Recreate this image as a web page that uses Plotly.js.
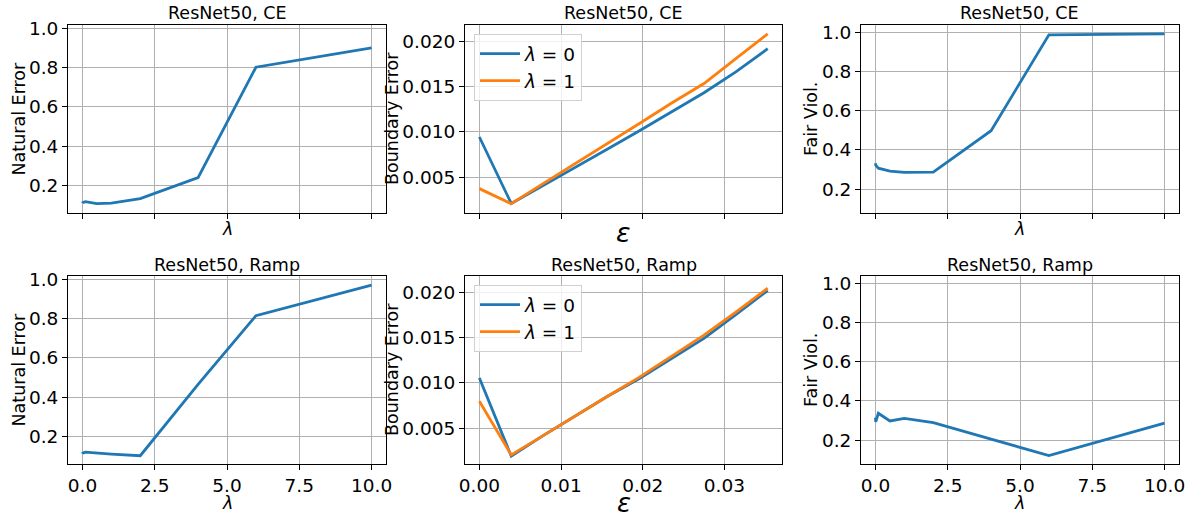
<!DOCTYPE html>
<html>
<head>
<meta charset="utf-8">
<script src="https://cdn.plot.ly/plotly-3.0.1.min.js"></script>
<style>html,body{margin:0;padding:0;background:#fff;}#chart{width:1191px;height:517px;}</style>
</head>
<body>
<div id="chart"></div>
<script>
// ---- data ----
const lambdas = [0, 0.01, 0.1, 0.5, 1, 2, 4, 6, 10];
const natErrCE   = [0.110, 0.113, 0.118, 0.108, 0.110, 0.133, 0.240, 0.802, 0.900];
const fairCE     = [0.332, 0.322, 0.307, 0.292, 0.285, 0.287, 0.498, 0.988, 0.993];
const natErrRamp = [0.112, 0.115, 0.120, 0.115, 0.110, 0.102, 0.465, 0.815, 0.971];
const fairRamp   = [0.315, 0.293, 0.337, 0.298, 0.311, 0.289, 0.205, 0.121, 0.287];

const eps = [0, 0.0039, 0.0078, 0.0118, 0.0157, 0.0196, 0.0235, 0.0275, 0.0314, 0.0353];
const bndCE_l0   = [0.00944, 0.00208, 0.00405, 0.00607, 0.00812, 0.01013, 0.01219, 0.01435, 0.01665, 0.01922];
const bndCE_l1   = [0.00372, 0.00205, 0.00427, 0.00651, 0.00874, 0.01094, 0.01318, 0.01537, 0.01812, 0.02087];
const bndRamp_l0 = [0.01054, 0.00190, 0.00416, 0.00632, 0.00852, 0.01050, 0.01266, 0.01493, 0.01757, 0.02024];
const bndRamp_l1 = [0.00797, 0.00203, 0.00416, 0.00632, 0.00852, 0.01065, 0.01291, 0.01530, 0.01786, 0.02050];

const panelTitles = ["ResNet50, CE", "ResNet50, Ramp"];
const legendNames = ["<i>λ</i> = 0", "<i>λ</i> = 1"];
const yLabels = ["Natural Error", "Boundary Error", "Fair Viol."];

// ---- styling ----
const BLUE = "#1f77b4", ORANGE = "#ff7f0e";
const FONT = "DejaVu Sans, Liberation Sans, sans-serif";
const LW = 2.8;
const TICK = 18.5, TITLE = 17.5, LABEL = 17.5;

function line(x, y, color, xa, ya, name, legend, show) {
  return {x: x, y: y, type: "scatter", mode: "lines", xaxis: xa, yaxis: ya,
          line: {color: color, width: LW}, name: name || "", showlegend: !!show,
          legend: legend || "legend", hoverinfo: "skip"};
}

const traces = [
  line(lambdas, natErrCE, BLUE, "x", "y"),
  line(eps, bndCE_l0, BLUE, "x2", "y2", legendNames[0], "legend", true),
  line(eps, bndCE_l1, ORANGE, "x2", "y2", legendNames[1], "legend", true),
  line(lambdas, fairCE, BLUE, "x3", "y3"),
  line(lambdas, natErrRamp, BLUE, "x4", "y4"),
  line(eps, bndRamp_l0, BLUE, "x5", "y5", legendNames[0], "legend2", true),
  line(eps, bndRamp_l1, ORANGE, "x5", "y5", legendNames[1], "legend2", true),
  line(lambdas, fairRamp, BLUE, "x6", "y6")
];

const W = 1191, H = 517;
const colPx = [[68, 386], [465, 782], [861, 1179]];
const rowPx = [[25, 213], [276, 464]];
const xd = c => [colPx[c][0] / W, colPx[c][1] / W];
const yd = r => [1 - rowPx[r][1] / H, 1 - rowPx[r][0] / H];

function axis(extra) {
  return Object.assign({
    showline: true, mirror: true, linecolor: "#000", linewidth: 1,
    ticks: "outside", ticklen: 5, tickwidth: 1, tickcolor: "#000",
    showgrid: true, gridcolor: "#b0b0b0", gridwidth: 1, zeroline: false,
    tickfont: {family: FONT, size: TICK, color: "#000"}, automargin: false,
    fixedrange: true
  }, extra);
}

const lamX = {range: [-0.5, 10.5], tick0: 0, dtick: 2.5, tickformat: ".1f"};
const epsX = {range: [-0.00176, 0.03705], tick0: 0, dtick: 0.01, tickformat: ".2f"};
const natY = {range: [0.06, 1.017], tick0: 0, dtick: 0.2, tickformat: ".1f"};
const bndY = {range: [0.00102, 0.02185], tick0: 0, dtick: 0.005, tickformat: ".3f"};
const fairY = {range: [0.078, 1.038], tick0: 0, dtick: 0.2, tickformat: ".1f"};

const legendStyle = {xanchor: "left", yanchor: "top",
  bgcolor: "rgba(255,255,255,0.8)", bordercolor: "#d0d0d0", borderwidth: 1,
  font: {family: FONT, size: 18.5, color: "#000"}, itemwidth: 40, tracegroupgap: 0};

const layout = {
  width: W, height: H,
  margin: {l: 0, r: 0, t: 0, b: 0},
  paper_bgcolor: "#fff", plot_bgcolor: "#fff",
  font: {family: FONT, size: 17, color: "#000"},
  xaxis:  axis(Object.assign({domain: xd(0), anchor: "y",  showticklabels: false}, lamX)),
  yaxis:  axis(Object.assign({domain: yd(0), anchor: "x"}, natY)),
  xaxis2: axis(Object.assign({domain: xd(1), anchor: "y2", showticklabels: false}, epsX)),
  yaxis2: axis(Object.assign({domain: yd(0), anchor: "x2"}, bndY)),
  xaxis3: axis(Object.assign({domain: xd(2), anchor: "y3", showticklabels: false}, lamX)),
  yaxis3: axis(Object.assign({domain: yd(0), anchor: "x3"}, fairY)),
  xaxis4: axis(Object.assign({domain: xd(0), anchor: "y4"}, lamX)),
  yaxis4: axis(Object.assign({domain: yd(1), anchor: "x4"}, natY)),
  xaxis5: axis(Object.assign({domain: xd(1), anchor: "y5"}, epsX)),
  yaxis5: axis(Object.assign({domain: yd(1), anchor: "x5"}, bndY)),
  xaxis6: axis(Object.assign({domain: xd(2), anchor: "y6"}, lamX)),
  yaxis6: axis(Object.assign({domain: yd(1), anchor: "x6"}, fairY)),
  legend:  Object.assign({x: 474 / W, y: 1 - 34 / H}, legendStyle),
  legend2: Object.assign({x: 474 / W, y: 1 - 285 / H}, legendStyle),
  annotations: []
};

const ann = layout.annotations;
const colC = [0, 1, 2].map(c => (colPx[c][0] + colPx[c][1]) / 2 / W);
const titleY = [1 - 13 / H, 1 - 264.5 / H];
for (let r = 0; r < 2; r++) {
  for (let c = 0; c < 3; c++) {
    ann.push({text: panelTitles[r], xref: "paper", yref: "paper", x: colC[c], y: titleY[r],
              xanchor: "center", yanchor: "middle", showarrow: false,
              font: {family: FONT, size: TITLE, color: "#000"}});
  }
}
const yLabX = [18.5 / W, 392 / W, 811 / W];
const rowC = [0, 1].map(r => 1 - (rowPx[r][0] + rowPx[r][1]) / 2 / H);
for (let r = 0; r < 2; r++) {
  for (let c = 0; c < 3; c++) {
    ann.push({text: yLabels[c], xref: "paper", yref: "paper", x: yLabX[c], y: rowC[r],
              xanchor: "center", yanchor: "middle", textangle: -90, showarrow: false,
              font: {family: FONT, size: LABEL, color: "#000"}});
  }
}
const lamY = [1 - 228.5 / H, 1 - 503 / H];
for (let r = 0; r < 2; r++) {
  [0, 2].forEach(c => ann.push({text: "<i>λ</i>", xref: "paper", yref: "paper", x: colC[c], y: lamY[r],
      xanchor: "center", yanchor: "middle", showarrow: false, font: {family: FONT, size: LABEL, color: "#000"}}));
}
ann.push({text: "<i>ε</i>", xref: "paper", yref: "paper", x: colC[1], y: 1 - 232.7 / H,
    xanchor: "center", yanchor: "middle", showarrow: false, font: {family: FONT, size: 27, color: "#000"}});
ann.push({text: "<i>ε</i>", xref: "paper", yref: "paper", x: colC[1], y: 1 - 502.5 / H,
    xanchor: "center", yanchor: "middle", showarrow: false, font: {family: FONT, size: 26, color: "#000"}});

Plotly.newPlot("chart", traces, layout, {displayModeBar: false, staticPlot: true});
</script>
</body>
</html>
